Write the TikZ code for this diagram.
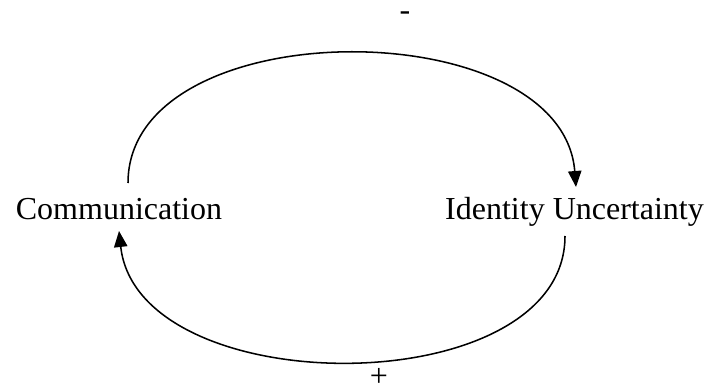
\documentclass[tikz,border=0pt]{standalone}
\usepackage{fontspec}
\setmainfont{Liberation Serif}
\usetikzlibrary{arrows.meta}
\begin{document}
\begin{tikzpicture}[x=0.75pt,y=-0.75pt,
  lbl/.style={font=\fontsize{24}{29}\selectfont, inner sep=0pt, anchor=base},
  sign/.style={font=\fontsize{24}{28}\selectfont, inner sep=1pt},
  link/.style={line width=1.15pt, -{Triangle[length=12pt,width=10pt]}}]
\useasboundingbox (0,0) rectangle (712,391);
\node[lbl] (comm) at (119,220) {Communication};
\node[lbl] (iu) at (574.5,220) {Identity Uncertainty};
\node[sign] (minus) at (405,16) {-};
\node[sign] (plus) at (379,377) {+};
\coordinate (a1) at (128,183);
\coordinate (a2) at (576,187);
\coordinate (b1) at (565,236);
\coordinate (b2) at (119,231);
\draw[link] (a1) .. controls (128,10) and (562,10) .. (a2);
\draw[link] (b1) .. controls (565,404) and (138,404) .. (b2);
\end{tikzpicture}
\end{document}
